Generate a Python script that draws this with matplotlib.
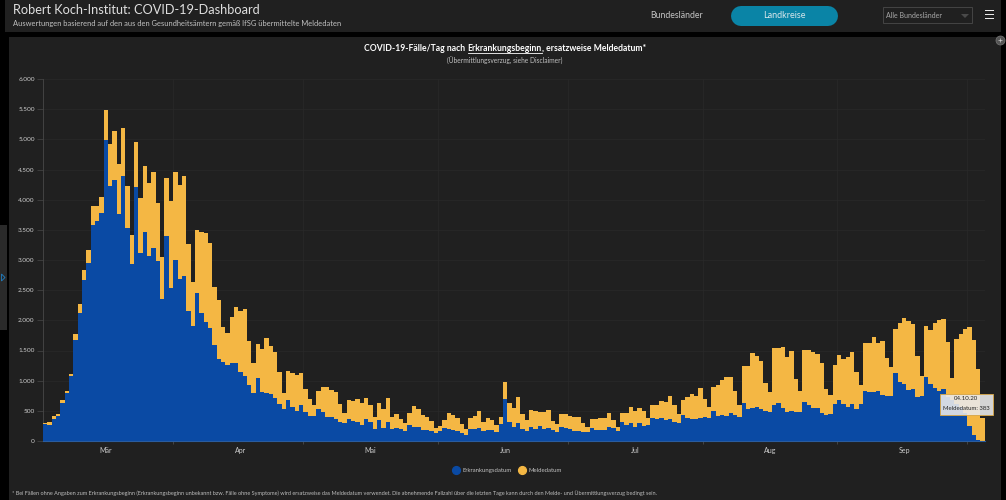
import numpy as np
import pandas as pd
import matplotlib
matplotlib.use('Agg')
import matplotlib.pyplot as plt
import matplotlib.dates as mdates
from matplotlib.lines import Line2D
from matplotlib.patches import Rectangle, Polygon

plt.rcParams['font.family'] = ['Lato', 'DejaVu Sans']

# Faelle pro Tag, 02.03.20 bis 04.10.20
erkrankung = [
    282, 265, 370, 409, 624, 790, 1077, 1674, 2127, 2668,
    2944, 3579, 3645, 3773, 4988, 4225, 4325, 3756, 4391, 3535,
    2933, 4203, 3110, 3463, 3065, 3193, 2977, 2348, 3397, 2541,
    2999, 2680, 2734, 2155, 1906, 2448, 2116, 1978, 1878, 1597,
    1354, 1309, 1260, 1287, 1287, 1144, 1077, 934, 790, 1039,
    807, 796, 779, 707, 613, 525, 685, 558, 503, 591,
    486, 420, 420, 530, 475, 403, 392, 370, 315, 304,
    370, 331, 309, 265, 359, 309, 199, 348, 210, 315,
    193, 210, 193, 171, 265, 238, 227, 188, 182, 160,
    138, 171, 210, 204, 182, 166, 138, 99, 199, 204,
    215, 171, 188, 182, 155, 282, 696, 320, 227, 293,
    204, 166, 227, 193, 249, 204, 210, 177, 149, 227,
    215, 199, 171, 171, 155, 155, 210, 182, 182, 182,
    238, 210, 171, 320, 265, 293, 238, 293, 249, 265,
    376, 365, 381, 348, 370, 320, 293, 425, 381, 365,
    365, 381, 392, 381, 497, 414, 425, 420, 459, 431,
    403, 624, 525, 553, 558, 530, 503, 475, 597, 624,
    553, 475, 497, 486, 486, 652, 597, 553, 541, 470,
    425, 442, 613, 680, 613, 569, 613, 536, 613, 829,
    818, 807, 834, 757, 751, 751, 1122, 978, 950, 845,
    856, 724, 740, 1066, 945, 884, 823, 856, 724, 680,
    613, 558, 459, 249, 99, 17, 0,
]
gesamt = [
    298, 310, 414, 447, 680, 829, 1110, 1773, 2270, 2833,
    3165, 3894, 3894, 4038, 5485, 4927, 5142, 4590, 5192, 4225,
    3408, 4960, 4027, 4562, 4270, 4457, 3949, 3054, 4358, 3982,
    4462, 4242, 4396, 3264, 2630, 3496, 3458, 3441, 3286, 2558,
    2337, 1895, 1790, 2050, 2216, 2160, 2193, 1652, 1298, 1608,
    1525, 1713, 1580, 1470, 1138, 801, 1166, 1122, 1094, 1133,
    862, 691, 597, 829, 901, 901, 845, 807, 613, 464,
    680, 663, 696, 624, 707, 597, 392, 635, 530, 707,
    392, 442, 359, 293, 459, 580, 525, 431, 392, 337,
    221, 249, 343, 470, 436, 387, 276, 193, 381, 414,
    503, 320, 376, 348, 265, 403, 972, 635, 552, 724,
    448, 348, 519, 497, 486, 486, 519, 331, 276, 448,
    448, 420, 398, 403, 293, 227, 365, 370, 387, 376,
    459, 348, 227, 470, 470, 569, 503, 541, 503, 387,
    597, 597, 669, 646, 746, 597, 448, 680, 735, 774,
    746, 873, 691, 569, 901, 928, 1011, 1066, 1055, 834,
    597, 1243, 1243, 1453, 1414, 1326, 956, 807, 1541, 1541,
    1558, 1398, 1497, 1022, 829, 1508, 1508, 1470, 1436, 1287,
    856, 757, 1254, 1425, 1354, 1398, 1470, 1144, 928, 1619,
    1630, 1718, 1619, 1658, 1370, 1221, 1856, 1961, 2033, 1989,
    1939, 1409, 1083, 1906, 1840, 1961, 2006, 2028, 1635, 1044,
    1691, 1768, 1856, 1884, 1674, 1193, 383,
]
monate = ['Mär', 'Apr', 'Mai', 'Jun', 'Jul', 'Aug', 'Sep']
y_ticks = [0, 500, 1000, 1500, 2000, 2500, 3000, 3500, 4000, 4500, 5000, 5500, 6000]
y_labels = ['0', '500', '1.000', '1.500', '2.000', '2.500', '3.000', '3.500',
            '4.000', '4.500', '5.000', '5.500', '6.000']

BLAU = '#0a4aa4'
GELB = '#f4b744'
PANEL = '#202020'
W, H = 1006, 500

fig = plt.figure(figsize=(W / 100, H / 100), dpi=100, facecolor='black')


def px_rect(x0, y0, x1, y1, **kw):
    # Rechteck in Bildpixeln, y von oben
    fig.add_artist(Rectangle((x0 / W, 1 - y1 / H), (x1 - x0) / W, (y1 - y0) / H,
                             transform=fig.transFigure, **kw))


def px_text(x, y, s, **kw):
    return fig.text(x / W, 1 - y / H, s, **kw)


# Flaechen
px_rect(5, 0, 1001, 32, facecolor=PANEL, edgecolor='none', zorder=-5)
px_rect(9, 37, 1001, 500, facecolor=PANEL, edgecolor='none', zorder=-5)
px_rect(0, 225, 7, 330, facecolor='#2a2a2a', edgecolor='none', zorder=-5)
fig.add_artist(Polygon([(1.5 / W, 1 - 274 / H), (1.5 / W, 1 - 281 / H), (5 / W, 1 - 277.5 / H)],
                       closed=True, facecolor='none', edgecolor='#1f7fc4', linewidth=0.6,
                       transform=fig.transFigure))

# Kopfzeile
px_text(13, 9.5, 'Robert Koch-Institut: COVID-19-Dashboard', color='#dedede',
        fontsize=9.2, va='center')
px_text(13, 23.5, 'Auswertungen basierend auf den aus den Gesundheitsämtern gemäß IfSG übermittelte Meldedaten',
        color='#c0c0c0', fontsize=5.37, va='center')
px_text(677, 16, 'Bundesländer', color='#c4c4c4', fontsize=6.3, ha='center', va='center')
fig.add_artist(Line2D([741 / W, 828 / W], [1 - 16 / H, 1 - 16 / H], color='#0a84a6', linewidth=14.4,
                      solid_capstyle='round', transform=fig.transFigure))
px_text(784.5, 16, 'Landkreise', color='#d6e6ea', fontsize=6.5, ha='center', va='center')
px_rect(883, 7, 972, 23, facecolor='none', edgecolor='#4a4a4a', linewidth=0.6)
px_text(886, 15.5, 'Alle Bundesländer', color='#a8a8a8', fontsize=5, va='center')
fig.add_artist(Polygon([(961 / W, 1 - 14 / H), (969 / W, 1 - 14 / H), (965 / W, 1 - 18 / H)],
                       closed=True, facecolor='#4a4a4a', edgecolor='none', transform=fig.transFigure))
for y in [10.5, 14.5, 18.5]:
    px_rect(985, y - 0.7, 994, y + 0.7, facecolor='#e8e8e8', edgecolor='none')
fig.add_artist(Line2D([1000 / W], [1 - 39.5 / H], linestyle='none', marker='o', markersize=6.5,
                      markerfacecolor='#555555', markeredgecolor='#777777', markeredgewidth=0.5,
                      transform=fig.transFigure))
fig.add_artist(Line2D([1000 / W], [1 - 39.5 / H], linestyle='none', marker='+', markersize=3.5,
                      markeredgecolor='#cccccc', markeredgewidth=0.5, transform=fig.transFigure))

# Titel, dreiteilig wegen der Unterstreichung
TITEL_FS = 6.2
t0 = px_text(364.5, 48.5, 'COVID-19-Fälle/Tag nach ', color='white', fontsize=TITEL_FS,
             fontweight='bold', va='center')
renderer = fig.canvas.get_renderer()
x1 = t0.get_window_extent(renderer).x1
t1 = fig.text(x1 / W, 1 - 48.5 / H, 'Erkrankungsbeginn', color='white', fontsize=TITEL_FS,
              fontweight='bold', va='center')
bb = t1.get_window_extent(renderer)
fig.text(bb.x1 / W, 1 - 48.5 / H, ', ersatzweise Meldedatum*', color='white', fontsize=TITEL_FS,
         fontweight='bold', va='center')
fig.add_artist(Line2D([bb.x0 / W, bb.x1 / W], [1 - 53 / H, 1 - 53 / H], color='white',
                      linewidth=0.6, transform=fig.transFigure))
px_text(505, 60.5, '(Übermittlungsverzug, siehe Disclaimer)', color='#c0c0c0', fontsize=4.8,
        ha='center', va='center')

# Diagramm
ax = fig.add_axes([43 / W, 1 - 441 / H, (984.6 - 43) / W, (441 - 79) / H])
ax.set_facecolor('none')

tage = pd.date_range('2020-03-02', periods=len(gesamt), freq='D')
x = mdates.date2num(tage)
melde = np.array(gesamt) - np.array(erkrankung)
ax.bar(x, erkrankung, width=1.0, align='edge', color=BLAU, linewidth=0, zorder=3)
ax.bar(x, melde, width=1.0, align='edge', bottom=erkrankung, color=GELB, linewidth=0, zorder=3)

ax.set_xlim(x[0], x[-1] + 1)
ax.set_ylim(0, 6000)
ax.set_yticks(y_ticks)
ax.set_yticklabels(y_labels)

monatsanfang = mdates.date2num(pd.date_range('2020-04-01', '2020-10-01', freq='MS'))
monatsmitte = mdates.date2num(pd.date_range('2020-03-01', periods=7, freq='MS')) + 15.5
ax.set_xticks(monatsanfang)
ax.set_xticklabels([])
ax.set_xticks(monatsmitte, minor=True)
ax.set_xticklabels(monate, minor=True)
ax.tick_params(axis='x', which='major', length=2, width=0.5, color='#555555')
ax.tick_params(axis='x', which='minor', length=0, pad=4, labelsize=5, labelcolor='#cccccc')
ax.tick_params(axis='y', length=4, width=0.5, color='#484848', pad=2, labelsize=4.6, labelcolor='#cccccc')
ax.grid(True, which='major', color='#292929', linewidth=0.5, zorder=0)
ax.set_axisbelow(True)

for side in ['top', 'right']:
    ax.spines[side].set_visible(False)
ax.spines['left'].set_color('#484848')
ax.spines['left'].set_linewidth(0.6)
ax.spines['bottom'].set_color('#2a5c9e')
ax.spines['bottom'].set_linewidth(0.8)
ax.spines['bottom'].set_zorder(5)

# Legende
handles = [Line2D([], [], linestyle='none', marker='o', markersize=5.6, color=BLAU),
           Line2D([], [], linestyle='none', marker='o', markersize=5.6, color=GELB)]
fig.legend(handles, ['Erkrankungsdatum', 'Meldedatum'], loc='center',
           bbox_to_anchor=(507 / W, 1 - 470 / H), ncol=2, frameon=False, fontsize=4.3,
           labelcolor='#c0c0c0', handlelength=1.2, handletextpad=0.5, columnspacing=1.2)

# Tooltip
px_rect(940, 393.5, 993, 415, facecolor='#e9e9e9', edgecolor='#d6a648', linewidth=0.7,
        alpha=0.9, zorder=6)
px_text(966.5, 399, '04.10.20', color='#222222', fontsize=4.4, ha='center', va='center', zorder=7)
px_text(966.5, 408.5, 'Meldedatum: 383', color='#222222', fontsize=4.3, ha='center', va='center', zorder=7)

# Fussnote
px_text(12, 493, '* Bei Fällen ohne Angaben zum Erkrankungsbeginn (Erkrankungsbeginn unbekannt bzw. Fälle ohne '
        'Symptome) wird ersatzweise das Meldedatum verwendet. Die abnehmende Fallzahl über die letzten Tage '
        'kann durch den Melde- und Übermittlungsverzug bedingt sein.',
        color='#bdbdbd', fontsize=3.98, va='center')

fig.savefig('out.png', dpi=100, facecolor='black')
